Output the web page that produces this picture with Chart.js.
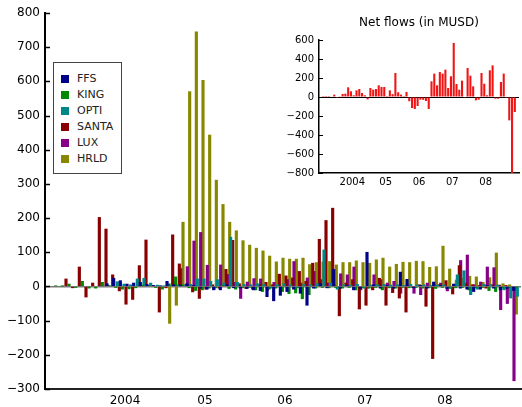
<!DOCTYPE html>
<html>
<head>
<meta charset="utf-8">
<script src="https://cdn.jsdelivr.net/npm/chart.js@4.4.1/dist/chart.umd.min.js"></script>
<style>
    html, body { margin: 0; padding: 0; background: #fff; overflow: hidden; }
    #wrap { position: relative; width: 522px; height: 407px; }
    #mainChart { position: absolute; left: 0; top: 0; }
    #insetChart { position: absolute; left: 270px; top: 0; }
    #inset-title { position: absolute; left: 319px; top: 15px; width: 200px; text-align: center;
        font: 12px "DejaVu Sans", sans-serif; line-height: 14px; color: #000; }
    #legend { position: absolute; left: 53px; top: 62px; width: 69px; height: 112px; box-sizing: border-box;
        border: 1px solid #444; background: #fff; padding-top: 8px; font: 11px "DejaVu Sans", sans-serif; color: #222; }
    #legend .row { height: 16px; line-height: 16px; position: relative; padding-left: 23px; }
    #legend .sw { position: absolute; left: 7px; top: 4px; width: 8px; height: 8px; }
</style>
</head>
<body>
<div id="wrap">
    <canvas id="mainChart" width="522" height="407"></canvas>
    <canvas id="insetChart" width="252" height="200"></canvas>
    <div id="inset-title">Net flows (in MUSD)</div>
    <div id="legend"></div>
</div>
<script>
// Monthly flows, month 0 = Jan 2003
const seriesNames = ['FFS', 'KING', 'OPTI', 'SANTA', 'LUX', 'HRLD'];
const seriesColors = ['#000088', '#008800', '#008888', '#880000', '#880088', '#888800'];
// first month that each series reports
const seriesStart = [9, 1, 10, 3, 19, 18];

const ffs = [8, 24, 17, 7, 10, 12, 6, 3, 2, 15, 5,
    4, 8, 3, -5, -8, -10, -10, 5, -4, -5,
    -6, -10, -12, -30, -42, -26, -15, -8, -20, -55,
    -5, 8, -4, 50, -5, 3, -10, -6, 100, 5,
    -5, 3, -5, 42, 21, -4, 3, -5, 13, 3,
    -6, 7, -5, -8, -15, -8, 3, -5, -10, -6, -12];
const king = [2, 1, 7, -3, 15, -5, -5, 12, 3,
    -3, -8, -7, -4, 4, 3, -3, -8, 8, 28,
    5, -4, -12, -10, -5, -4, 3, -6, -8, -4,
    -3, -10, -15, -8, -5, -15, -21, -19, -36, -24,
    -5, -3, -4, -3, -5, -3, -10, -4, -5, -3,
    -10, -4, -5, -3, -4, -3, -5, -4, -6, -3,
    -5, -4, -3, -10, -4, -3, -12, -15, -5, -4, -3];
const opti = [14, 7, 5, 22, 24, 10, 4, 2, 3, 5,
    4, 6, 22, 22, 15, 20, 10, 144, 12, 6,
    5, 8, 6, -5, 5, 8, 5, -4, 6, 5,
    8, 107, 10, -8, 5, 4, 6, -5, 4, 5,
    6, 4, 5, 3, 6, 4, 5, 3, 4, 5,
    -6, 34, 46, -24, -8, 6, 5, 4, -10, -34, -29];
const santa = [22, -4, 57, -31, 10, 202, 168,
    34, -13, -52, -38, 61, 136, 3, -75, -4, 151,
    66, 5, -16, -35, -8, 5, -5, 50, 135, 8,
    -6, -8, 5, 12, 5, 36, 31, 25, 44, 15,
    68, 138, 193, 229, -86, 10, 20, -66, -55, -10,
    24, -55, -18, -34, -75, -2, 5, -58, -211, 5,
    17, -22, 61, 10, 5, 3, -5, 5, 4, 3, -5];
const lux = [15,
    52, 58, 133, 158, 62, -8, 63, 35, 12, -35,
    13, 23, 22, -12, 12, -5, 20, 73, 10, 25,
    44, 20, 10, 5, 37, 34, 57, -10, -5, 34,
    20, 10, 15, -20, 5, -20, -24, 10, 5, 10,
    -13, 5, 76, 92, 5, 13, 57, 55, -68, -50, -276];
const hrld = [-108, -55,
    188, 570, 745, 603, 443, 311, 240, 188, 163, 134,
    121, 112, 104, 89, 72, 83, 80, 80, 83, 64,
    70, 72, 73, 63, 70, 70, 75, 70, 68, 78,
    83, 57, 65, 71, 70, 74, 73, 56, 58, 118,
    51, 19, 24, 30, 28, 12, 26, 98, 8, 5, -81];
const seriesValues = [ffs, king, opti, santa, lux, hrld];

// Net flows inset, months 1..70
const netStart = 1;
const netFlows = [10, 10, 10, 5, 25, -10, 3, 32, 35,
    102, 60, 18, 70, 84, 42, 18, -25, 95, 77,
    84, 123, 105, 105, 10, 70, 30, 253, 50, 25,
    10, 53, -45, -116, -126, -95, -28, -30, -42, -126,
    165, 246, 123, 263, 246, 288, 95, 218, 569, 137,
    77, 172, -10, 305, 225, 112, -35, -28, 253, 140,
    18, 281, 333, -18, -18, 158, 246, -10, -246, -800, -158];

const yearTicks = [2004, 2005, 2006, 2007, 2008];
const yearLabels = ['2004', '05', '06', '07', '08'];

// where inside its month each series is drawn (fraction of a month)
const seriesShift = [0.3, 0.6, 0.85, 0.15, 0.35, 0.7];

const FONT = '"DejaVu Sans", sans-serif';
const fmt = v => v < 0 ? '\u2212' + Math.abs(v) : String(v);
const monthToYear = m => 2003 + m / 12;

// legend box
document.getElementById('legend').innerHTML = seriesNames.map((n, i) =>
    `<div class="row"><span class="sw" style="background:${seriesColors[i]}"></span>${n}</div>`).join('');

// small inward tick marks on the y axis
const inwardTicks = {
    id: 'inwardTicks',
    afterDraw(chart, args, opts) {
        const {ctx, chartArea, scales} = chart;
        ctx.save();
        ctx.strokeStyle = '#000';
        ctx.lineWidth = opts.width;
        scales.y.ticks.forEach(t => {
            const py = Math.round(scales.y.getPixelForValue(t.value)) + 0.5;
            ctx.beginPath();
            ctx.moveTo(chartArea.left, py);
            ctx.lineTo(chartArea.left + opts.len, py);
            ctx.stroke();
        });
        ctx.restore();
    }
};

const mainDatasets = seriesNames.map((name, i) => ({
    label: name,
    data: seriesValues[i].map((v, k) => ({x: monthToYear(seriesStart[i] + k + seriesShift[i]), y: v})),
    backgroundColor: seriesColors[i],
    borderWidth: 0,
    barThickness: 2.5,
    grouped: false
}));

new Chart(document.getElementById('mainChart'), {
    type: 'bar',
    data: { datasets: mainDatasets },
    options: {
        responsive: false,
        animation: false,
        layout: { padding: { top: 13, right: 1, left: 0, bottom: 0 } },
        plugins: { legend: { display: false }, tooltip: { enabled: false }, inwardTicks: { len: 5, width: 1.5 } },
        scales: {
            x: {
                type: 'linear', min: 2003, max: 2008.95, offset: false,
                grid: { display: false, drawTicks: false, offset: false },
                border: { color: '#222', width: 2 },
                afterBuildTicks: s => { s.ticks = yearTicks.map(v => ({ value: v })); },
                afterFit: s => { s.height = 18; },
                ticks: {
                    padding: 5, color: '#000', maxRotation: 0, autoSkip: false,
                    font: { family: FONT, size: 12 },
                    callback: v => yearLabels[yearTicks.indexOf(v)]
                }
            },
            y: {
                min: -300, max: 800,
                grid: { drawTicks: false, lineWidth: 1.5, color: c => c.tick && c.tick.value === 0 ? '#7a7a7a' : 'rgba(0,0,0,0)' },
                border: { color: '#000', width: 2 },
                afterFit: s => { s.width = 45; },
                ticks: { stepSize: 100, padding: 5, color: '#000', font: { family: FONT, size: 12 }, callback: fmt }
            }
        }
    },
    plugins: [inwardTicks]
});

new Chart(document.getElementById('insetChart'), {
    type: 'bar',
    data: {
        datasets: [{
            label: 'Net flows',
            data: netFlows.map((v, k) => ({x: monthToYear(netStart + k + 0.5), y: v})),
            backgroundColor: '#f01414',
            borderWidth: 0,
            barPercentage: 0.75,
            categoryPercentage: 1
        }]
    },
    options: {
        responsive: false,
        animation: false,
        layout: { padding: { top: 40, right: 3, left: 0, bottom: 0 } },
        plugins: { legend: { display: false }, tooltip: { enabled: false }, inwardTicks: { len: 4, width: 1 } },
        scales: {
            x: {
                type: 'linear', min: 2003, max: 2009, offset: false,
                grid: { display: false, drawTicks: false, offset: false },
                border: { color: '#000', width: 1.5 },
                afterBuildTicks: s => { s.ticks = yearTicks.map(v => ({ value: v })); },
                afterFit: s => { s.height = 27; },
                ticks: {
                    padding: 3, color: '#000', maxRotation: 0, autoSkip: false,
                    font: { family: FONT, size: 10 },
                    callback: v => yearLabels[yearTicks.indexOf(v)]
                }
            },
            y: {
                min: -800, max: 600,
                grid: { drawTicks: false, lineWidth: 1, color: c => c.tick && c.tick.value === 0 ? '#000' : 'rgba(0,0,0,0)' },
                border: { color: '#000', width: 1.5 },
                afterFit: s => { s.width = 49; },
                ticks: { stepSize: 200, padding: 5, color: '#000', font: { family: FONT, size: 10 }, callback: fmt }
            }
        }
    },
    plugins: [inwardTicks]
});
</script>
</body>
</html>
